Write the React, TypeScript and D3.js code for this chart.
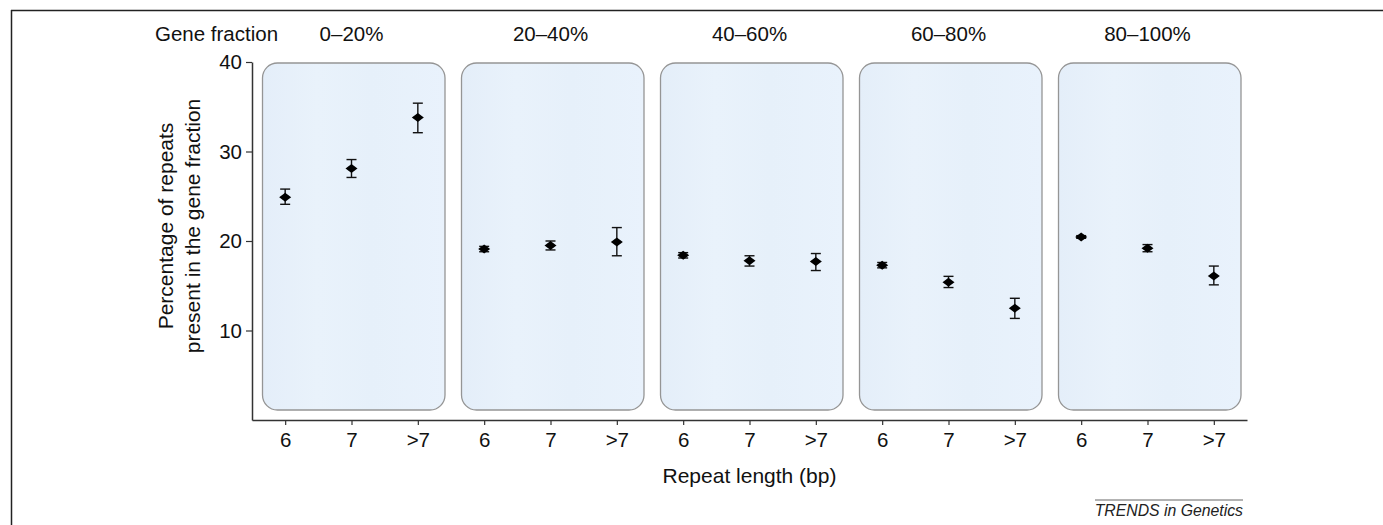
import React, { useEffect, useRef } from 'react';
import { select, scaleLinear, scaleBand, scalePoint, axisLeft, axisBottom } from 'd3';

const fractions = ['0–20%', '20–40%', '40–60%', '60–80%', '80–100%'];
const lengths = ['6', '7', '>7'];
const yTicks = [10, 20, 30, 40];

// mean % per fraction, per repeat length
const means = [
  [24.9, 28.1, 33.8],
  [19.1, 19.5, 19.9],
  [18.4, 17.8, 17.7],
  [17.3, 15.4, 12.5],
  [20.45, 19.2, 16.1],
];
const upper = [
  [25.8, 29.1, 35.4],
  [19.4, 20.0, 21.5],
  [18.7, 18.35, 18.6],
  [17.6, 16.05, 13.6],
  [20.6, 19.6, 17.2],
];
const lower = [
  [24.1, 27.1, 32.1],
  [18.8, 19.0, 18.35],
  [18.1, 17.2, 16.7],
  [17.0, 14.8, 11.35],
  [20.3, 18.8, 15.1],
];

const W = 1383, H = 525;
const FONT = '"Liberation Sans", Arial, Helvetica, sans-serif';

const App = () => {
  const svgRef = useRef(null);

  useEffect(() => {
    const svg = select(svgRef.current);
    svg.selectAll('*').remove();

    const left = 252, right = 1247, top = 62, bottom = 420;

    const y = scaleLinear().domain([0, 40]).range([bottom, top]);
    const band = scaleBand().domain(fractions).range([left, right]);
    const keys = fractions.flatMap((f, i) => lengths.map(l => `${i}|${l}`));
    const x = scalePoint().domain(keys).range([left, right]).padding(0.5);

    const defs = svg.append('defs');
    const grad = defs.append('linearGradient').attr('id', 'boxfill').attr('x1', '0').attr('x2', '1');
    [['0', '#e4eef9'], ['0.3', '#e9f2fb'], ['0.6', '#e6f0fa'], ['1', '#e9f2fc']].forEach(([o, c]) =>
      grad.append('stop').attr('offset', o).attr('stop-color', c));

    // frame (top + left)
    svg.append('line').attr('x1', 11).attr('x2', W).attr('y1', 10.5).attr('y2', 10.5)
      .attr('stroke', '#222').attr('stroke-width', 1.5);
    svg.append('line').attr('x1', 11.5).attr('x2', 11.5).attr('y1', 10).attr('y2', H)
      .attr('stroke', '#222').attr('stroke-width', 1.5);

    // panel boxes
    svg.append('g').selectAll('rect').data(fractions).enter().append('rect')
      .attr('x', d => band(d) + 10.5)
      .attr('y', y(40) + 1)
      .attr('width', band.bandwidth() - 16.5)
      .attr('height', y(0) - 10 - y(40) - 1)
      .attr('rx', 15)
      .attr('fill', 'url(#boxfill)')
      .attr('stroke', '#959595')
      .attr('stroke-width', 1.3);

    // panel headers
    svg.append('g').selectAll('text').data(fractions).enter().append('text')
      .attr('x', d => band(d) + band.bandwidth() / 2)
      .attr('y', 41)
      .attr('text-anchor', 'middle')
      .style('font-family', FONT).style('font-size', '20.5px').attr('fill', '#111')
      .text(d => d);
    svg.append('text').attr('x', 155).attr('y', 41)
      .style('font-family', FONT).style('font-size', '20.5px').attr('fill', '#111')
      .text('Gene fraction');

    // axes
    const yAxis = axisLeft(y).tickValues(yTicks).tickSize(6).tickSizeOuter(0).tickPadding(4);
    const gy = svg.append('g').attr('transform', `translate(${left},0)`).call(yAxis);
    gy.select('.domain').attr('stroke', '#333').attr('stroke-width', 1.5);
    gy.selectAll('.tick line').attr('stroke', '#333').attr('stroke-width', 1.2);
    gy.selectAll('.tick text').style('font-family', FONT).style('font-size', '20.5px').attr('fill', '#111');

    const xAxis = axisBottom(x).tickSize(5).tickSizeOuter(0).tickPadding(7)
      .tickFormat(d => d.split('|')[1]);
    const gx = svg.append('g').attr('transform', `translate(0,${bottom})`).call(xAxis);
    gx.select('.domain').attr('stroke', '#333').attr('stroke-width', 1.5);
    gx.selectAll('.tick line').attr('stroke', '#333').attr('stroke-width', 1.2);
    gx.selectAll('.tick text').style('font-family', FONT).style('font-size', '20.5px').attr('fill', '#111');

    // axis titles
    const yt = svg.append('text')
      .attr('transform', 'translate(173,226) rotate(-90)')
      .attr('text-anchor', 'middle')
      .style('font-family', FONT).style('font-size', '21px').attr('fill', '#111');
    yt.append('tspan').attr('x', 0).attr('dy', 0).text('Percentage of repeats');
    yt.append('tspan').attr('x', 0).attr('dy', 27).text('present in the gene fraction');

    svg.append('text').attr('x', (left + right) / 2).attr('y', 483)
      .attr('text-anchor', 'middle')
      .style('font-family', FONT).style('font-size', '21px').attr('fill', '#111')
      .text('Repeat length (bp)');

    // error bars + diamonds
    const pts = fractions.flatMap((f, i) => lengths.map((l, j) => ({
      key: `${i}|${l}`, m: means[i][j], hi: upper[i][j], lo: lower[i][j],
    })));
    const g = svg.append('g');
    const cap = 5;
    pts.forEach(p => {
      const cx = x(p.key);
      g.append('line').attr('x1', cx).attr('x2', cx).attr('y1', y(p.hi)).attr('y2', y(p.lo))
        .attr('stroke', '#111').attr('stroke-width', 1.4);
      [p.hi, p.lo].forEach(v => g.append('line')
        .attr('x1', cx - cap).attr('x2', cx + cap).attr('y1', y(v)).attr('y2', y(v))
        .attr('stroke', '#111').attr('stroke-width', 1.4));
      const cy = y(p.m);
      g.append('path')
        .attr('d', `M${cx - 6},${cy} L${cx},${cy - 4.5} L${cx + 6},${cy} L${cx},${cy + 4.5} Z`)
        .attr('fill', '#000');
    });

    // footer
    svg.append('line').attr('x1', 1095).attr('x2', 1243).attr('y1', 500).attr('y2', 500)
      .attr('stroke', '#666').attr('stroke-width', 1);
    svg.append('text').attr('x', 1243).attr('y', 516).attr('text-anchor', 'end')
      .style('font-family', FONT).style('font-size', '15.8px').style('font-style', 'italic')
      .attr('fill', '#222')
      .text('TRENDS in Genetics');
  }, []);

  return (
    <svg
      ref={svgRef}
      width={W}
      height={H}
      viewBox={`0 0 ${W} ${H}`}
      style={{ position: 'absolute', left: 0, top: 0, background: '#fff' }}
    />
  );
};

export default App;
